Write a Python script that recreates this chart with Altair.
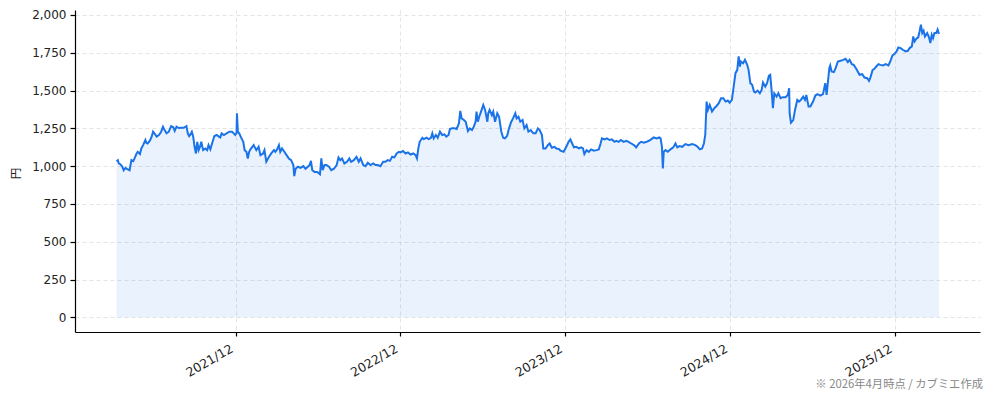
import altair as alt
import pandas as pd

# Day offsets from the first trading day shown (2021-03-12) and closing prices (円)
base_date = "2021-03-12"
days = [
    0, 3, 5, 9, 13, 16, 20, 25, 29, 33, 37, 40, 44, 47, 52, 55, 59, 64, 66, 69, 74, 78, 81, 84, 89, 94, 99, 103, 106,
    111, 116, 121, 126, 129, 133, 138, 143, 149, 155, 158, 161, 164, 167, 170, 173, 176, 179, 182, 185, 188, 192, 197,
    201, 204, 208, 213, 217, 222, 227, 230, 233, 238, 244, 250, 256, 260, 263, 266, 267, 269, 272, 276, 281, 284, 288,
    291, 294,
    297, 304, 310, 315, 319, 325, 328, 332, 338, 343, 349, 352, 356, 360, 363, 367, 372, 377, 382, 387, 392, 394, 397,
    402, 408, 414, 419, 424, 428, 431, 434, 439, 445, 451, 454, 457, 461, 465, 471, 476, 482, 488, 492, 496, 500, 505,
    511, 516, 520, 526, 532, 537, 541, 547, 552, 557, 563, 569, 574, 579, 585, 591, 596, 601, 606, 611, 616, 621, 626,
    629,
    635, 641, 646, 652, 658, 663, 666, 669, 672, 678, 681, 687, 692, 697, 700, 703, 708, 712, 717, 722, 727, 731, 736,
    739, 744, 749, 754, 759, 762, 765, 770, 774, 779, 783, 788, 792, 796, 798, 801, 804, 808, 813, 817, 822, 824, 827,
    832, 835, 839, 844, 848, 853, 857, 861, 866, 870, 875, 879, 884, 887, 891, 895, 900, 904, 909, 913, 918, 924, 929,
    934, 938, 943, 946, 951, 956, 960, 965, 971, 975, 981,
    984, 991, 997, 1002, 1006, 1010, 1014, 1019, 1025, 1030, 1034, 1037, 1042, 1047, 1052, 1058, 1064, 1069, 1073,
    1076, 1082, 1087, 1093, 1098, 1104, 1108, 1113, 1118, 1124, 1130, 1135, 1141, 1147, 1152, 1158, 1163, 1169, 1175,
    1180, 1185, 1191, 1197, 1203, 1206, 1209, 1211, 1213, 1217, 1222, 1228, 1234, 1239, 1243, 1248, 1254, 1261, 1268,
    1276, 1283, 1288, 1293, 1298, 1302, 1305,
    1308, 1311, 1315, 1320, 1325, 1330, 1335, 1340, 1345, 1350, 1355, 1359, 1364, 1368, 1372, 1376, 1379, 1382, 1384,
    1389, 1393, 1398, 1401, 1405, 1409, 1413, 1416, 1421, 1426, 1430, 1433, 1438, 1442, 1446, 1449, 1452, 1455, 1458,
    1463, 1467, 1472, 1477, 1483, 1488, 1491, 1492, 1495, 1500, 1504, 1509, 1513, 1517, 1522, 1526, 1529, 1534,
    1538, 1544, 1549, 1554, 1560, 1566, 1571, 1574, 1577, 1580, 1582, 1585, 1590, 1594, 1599, 1605, 1611, 1616, 1621,
    1625, 1630, 1634, 1639, 1643, 1647, 1653, 1658, 1664, 1668, 1671, 1676, 1680, 1684, 1689, 1693, 1699, 1705, 1711,
    1715, 1720, 1724, 1729, 1733, 1738, 1743, 1749, 1754, 1758, 1763, 1766, 1769, 1773, 1777, 1780, 1783, 1786, 1789,
    1792, 1797, 1801, 1804, 1807, 1810, 1813, 1817, 1820, 1823,
]
prices = [
    1033, 1040, 1018, 1011, 996, 973, 989, 978, 973, 1040, 1033, 1051, 1080, 1095, 1080, 1117, 1139, 1173, 1155, 1150,
    1168, 1195, 1228, 1217, 1195, 1206, 1228, 1261, 1243, 1217, 1228, 1265, 1257, 1234, 1261, 1252, 1254, 1254, 1265,
    1217, 1199, 1210, 1228, 1195, 1128, 1084, 1161, 1106, 1128, 1161, 1106, 1117, 1106, 1139, 1111, 1161, 1199, 1206,
    1195, 1190, 1217, 1206, 1217, 1228, 1228, 1217, 1206, 1217, 1350, 1228, 1217, 1190, 1161, 1106, 1095, 1051, 1095,
    1111, 1139, 1106, 1128, 1073, 1084, 1106, 1029, 1062, 1084, 1106, 1095, 1111, 1139, 1095, 1117, 1095, 1073, 1051,
    1040, 1007, 934, 983, 996, 989, 1000, 983, 996, 1007, 1035, 973, 962, 962, 947, 1051, 973, 1007, 1007, 996, 973,
    983, 1007, 1058, 1040, 1051, 1018, 1029, 1051, 1029, 1040, 1062, 1029, 1051, 1007, 1000, 1022, 1007, 1018, 1007,
    1007, 1000, 1029, 1029, 1040, 1035, 1062, 1058, 1084, 1095, 1091,
    1100, 1084, 1091, 1077, 1084, 1073, 1051, 1117, 1161, 1188, 1179, 1188, 1179, 1188, 1217, 1184, 1206, 1188, 1228,
    1206, 1210, 1195, 1206, 1246, 1250, 1250, 1246, 1283, 1365, 1316, 1305, 1294, 1232, 1250, 1239, 1261, 1294, 1361,
    1294, 1327, 1361, 1405, 1372, 1294, 1350, 1372, 1338, 1361, 1294, 1350, 1327, 1228, 1188, 1184, 1201, 1250, 1294,
    1316, 1350, 1316, 1327, 1294, 1305, 1250, 1272, 1228, 1239, 1217, 1217, 1250, 1239, 1206, 1117, 1117, 1139, 1150,
    1122, 1128, 1117, 1113,
    1102, 1095, 1128, 1161, 1177, 1150, 1124, 1128, 1117, 1124, 1117, 1080, 1106, 1095, 1111, 1102, 1106, 1111, 1150,
    1184, 1177, 1184, 1173, 1177, 1161, 1168, 1161, 1173, 1161, 1168, 1161, 1150, 1139, 1124, 1150, 1161, 1155, 1161,
    1168, 1177, 1190, 1184, 1190, 1184, 1128, 985, 1095, 1106, 1095, 1111, 1124, 1150, 1124, 1133, 1128, 1146, 1139,
    1146, 1139, 1128, 1111, 1117, 1150, 1206,
    1427, 1372, 1405, 1361, 1383, 1398, 1416, 1449, 1449, 1427, 1434, 1420, 1438, 1526, 1615, 1637, 1726, 1659, 1692,
    1681, 1703, 1670, 1637, 1549, 1538, 1493, 1487, 1500, 1482, 1504, 1553, 1526, 1549, 1597, 1604, 1504, 1383, 1482,
    1460, 1482, 1449, 1456, 1456, 1471, 1515, 1350, 1288, 1305, 1372, 1438, 1427, 1438, 1460, 1438, 1471, 1394,
    1394, 1427, 1467, 1476, 1467, 1476, 1549, 1471, 1560, 1648, 1666, 1626, 1622, 1648, 1692, 1697, 1703, 1710, 1688,
    1703, 1675, 1670, 1648, 1626, 1604, 1608, 1586, 1582, 1564, 1586, 1637, 1644, 1659, 1675, 1670, 1666, 1675, 1666,
    1692, 1732, 1741, 1759, 1785, 1781, 1770, 1759, 1763, 1781, 1792, 1858, 1825, 1843, 1852, 1891, 1936, 1880, 1896,
    1858, 1880, 1852, 1814, 1869, 1847, 1880, 1880, 1903, 1874,
]

y_ticks = [0, 250, 500, 750, 1000, 1250, 1500, 1750, 2000]
x_tick_years = [2021, 2022, 2023, 2024, 2025]
y_title = "円"
footer = "※ 2026年4月時点 / カブミエ作成"

LINE = "#1a73e8"
FONT = "DejaVu Sans"
JFONT = "Noto Sans CJK JP"

df = pd.DataFrame({
    "date": pd.to_datetime(base_date) + pd.to_timedelta(days, unit="D"),
    "price": prices,
})

# matplotlib-like 5% margins
span = df["date"].max() - df["date"].min()
d0 = df["date"].min() - span * 0.05
d1 = df["date"].max() + span * 0.05
ymax = max(prices)
y0, y1 = -ymax * 0.05, ymax * 1.05

x_scale = alt.Scale(domain=[
    alt.DateTime(year=d0.year, month=d0.month, date=d0.day),
    alt.DateTime(year=d1.year, month=d1.month, date=d1.day),
])
y_scale = alt.Scale(domain=[y0, y1], nice=False, zero=False)

x_axis = alt.Axis(
    values=[alt.DateTime(year=y, month=12, date=1) for y in x_tick_years],
    format="%Y/%m", labelAngle=330, labelAlign="right", labelBaseline="top",
    labelPadding=6, labelOffset=-7, tickSize=4, tickColor="#000", domainColor="#000",
    gridDash=[4, 3], gridColor="#dddddd", title=None,
    labelFont=FONT, labelFontSize=12.5, labelColor="#222", labelOverlap=False,
)
y_axis = alt.Axis(
    values=y_ticks, format=",.0f", tickSize=5, tickColor="#000", domainColor="#000",
    gridDash=[4, 3], gridColor="#dddddd", title=y_title, titleFont=JFONT,
    titleFontSize=11.5, titleFontWeight="normal", titleColor="#222",
    titleX=-59, titleY=163, titleAngle=270, titleAlign="center", titleBaseline="middle",
    labelFont=FONT, labelFontSize=12, labelColor="#222", labelPadding=4,
)

base = alt.Chart(df)
area = base.mark_area(color=LINE, opacity=0.09).encode(
    x=alt.X("date:T", scale=x_scale, axis=x_axis),
    y=alt.Y("price:Q", scale=y_scale, axis=y_axis),
    y2=alt.datum(0),
)
line = base.mark_line(color=LINE, strokeWidth=2).encode(
    x="date:T",
    y="price:Q",
)
note = alt.Chart(pd.DataFrame({"t": [footer]})).mark_text(
    align="right", baseline="middle", fontSize=11.3, color="#888888", font=JFONT
).encode(text="t:N", x=alt.value(908), y=alt.value(375))

chart = alt.layer(area, line, note).properties(
    width=905, height=322,
    padding={"left": 67, "top": 2, "right": 6, "bottom": 62},
    autosize=alt.AutoSizeParams(type="none"),
).configure_view(stroke=None).configure_axis(domainWidth=1.2, tickWidth=1.2, gridWidth=0.8)

chart.save("out.html", embed_options={"renderer": "svg", "actions": False})
